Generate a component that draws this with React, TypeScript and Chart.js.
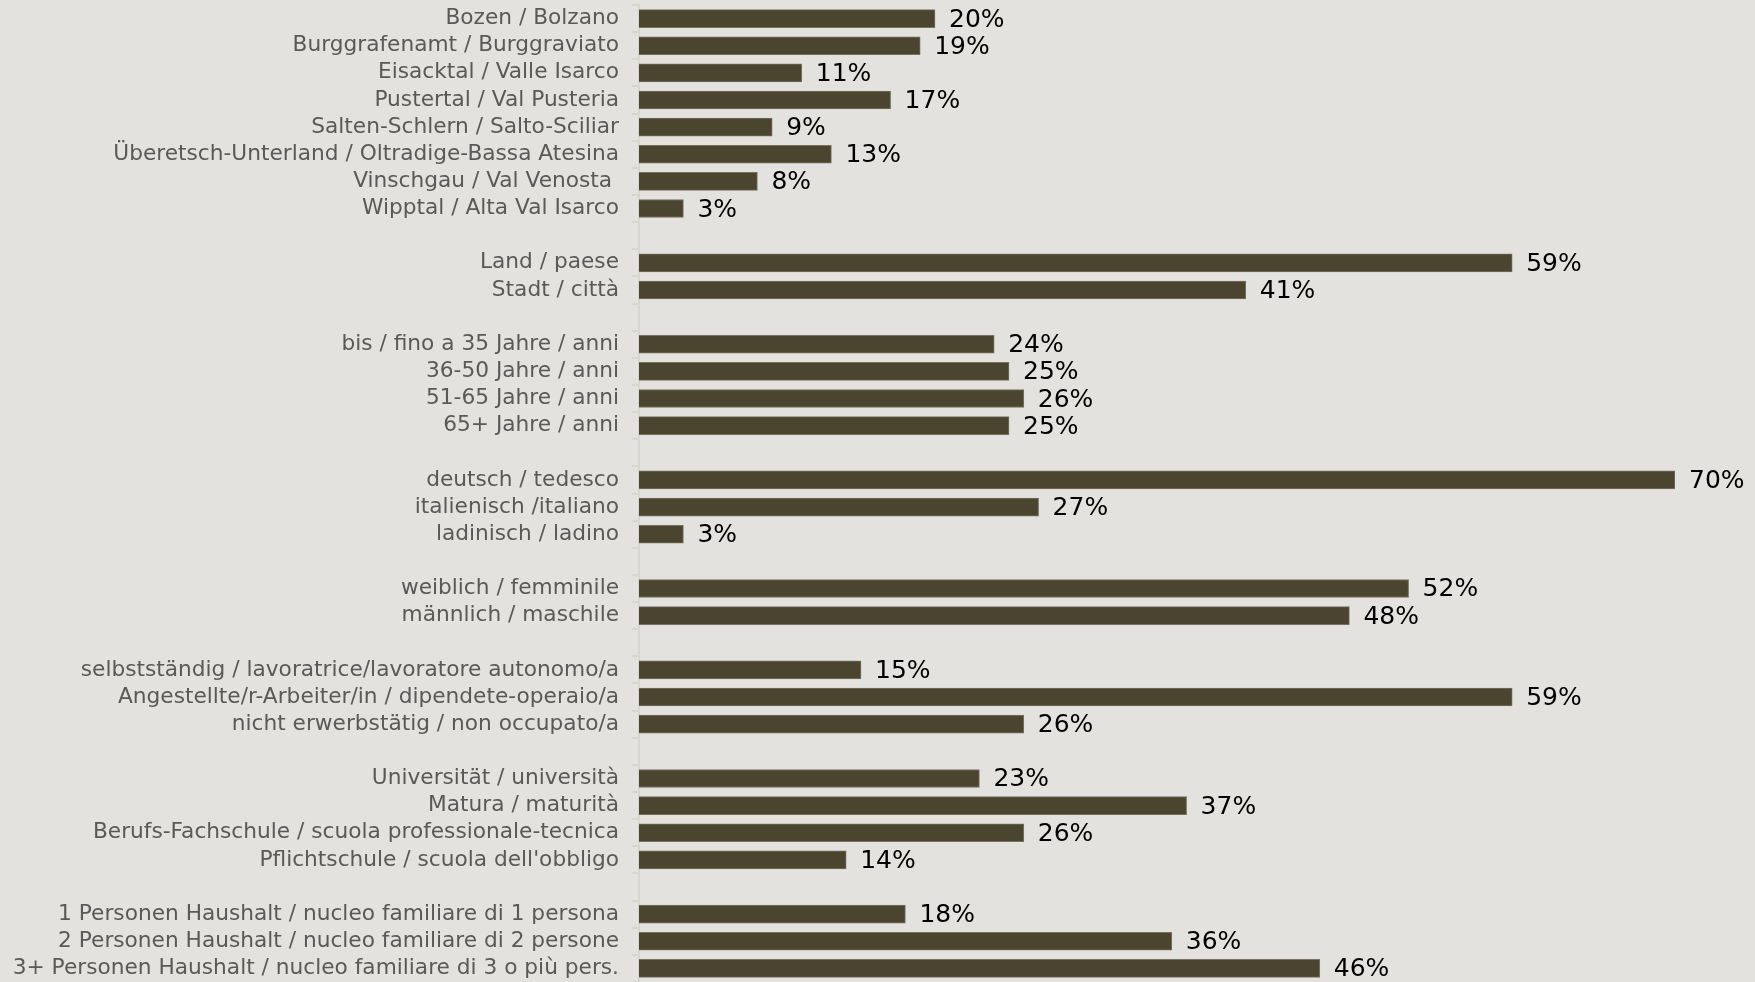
import React, { useEffect, useRef } from "react";
import { Chart, registerables } from "chart.js";

Chart.register(...registerables);

const categories: string[] = [
  "Bozen / Bolzano",
  "Burggrafenamt / Burggraviato",
  "Eisacktal / Valle Isarco",
  "Pustertal / Val Pusteria",
  "Salten-Schlern / Salto-Sciliar",
  "Überetsch-Unterland / Oltradige-Bassa Atesina",
  "Vinschgau / Val Venosta ",
  "Wipptal / Alta Val Isarco",
  "",
  "Land / paese",
  "Stadt / città",
  "",
  "bis / fino a 35 Jahre / anni",
  "36-50 Jahre / anni",
  "51-65 Jahre / anni",
  "65+ Jahre / anni",
  "",
  "deutsch / tedesco",
  "italienisch /italiano",
  "ladinisch / ladino",
  "",
  "weiblich / femminile",
  "männlich / maschile",
  "",
  "selbstständig / lavoratrice/lavoratore autonomo/a",
  "Angestellte/r-Arbeiter/in / dipendete-operaio/a",
  "nicht erwerbstätig / non occupato/a",
  "",
  "Universität / università",
  "Matura / maturità",
  "Berufs-Fachschule / scuola professionale-tecnica",
  "Pflichtschule / scuola dell'obbligo",
  "",
  "1 Personen Haushalt / nucleo familiare di 1 persona",
  "2 Personen Haushalt / nucleo familiare di 2 persone",
  "3+ Personen Haushalt / nucleo familiare di 3 o più pers.",
];

const values: (number | null)[] = [
  20, 19, 11, 17, 9, 13, 8, 3,
  null,
  59, 41,
  null,
  24, 25, 26, 25,
  null,
  70, 27, 3,
  null,
  52, 48,
  null,
  15, 59, 26,
  null,
  23, 37, 26, 14,
  null,
  18, 36, 46,
];

const axisMin = 0;
const axisMax = 70;

const valueLabels = {
  id: "valueLabels",
  afterDatasetsDraw(chart: any) {
    const ctx = chart.ctx;
    const meta = chart.getDatasetMeta(0);
    ctx.save();
    ctx.font = "25px 'DejaVu Sans'";
    ctx.fillStyle = "#000000";
    ctx.textAlign = "left";
    ctx.textBaseline = "middle";
    meta.data.forEach((bar: any, i: number) => {
      const v = values[i];
      if (v === null || v === undefined) return;
      ctx.fillText(`${v}%`, bar.x + 14, bar.y + 1.5);
    });
    ctx.restore();
  },
};

export default function App() {
  const ref = useRef<HTMLCanvasElement | null>(null);

  useEffect(() => {
    if (!ref.current) return;
    const chart = new Chart(ref.current, {
      type: "bar",
      data: {
        labels: categories,
        datasets: [
          {
            data: values,
            backgroundColor: "#4b4530",
            borderColor: "#77725f",
            borderWidth: 1,
            barThickness: 18,
          },
        ],
      },
      options: {
        indexAxis: "y",
        animation: false,
        responsive: false,
        maintainAspectRatio: false,
        layout: { padding: { top: 5, right: 80, left: 0, bottom: 0 } },
        plugins: {
          legend: { display: false },
          tooltip: { enabled: false },
        },
        scales: {
          x: {
            display: false,
            min: axisMin,
            max: axisMax,
          },
          y: {
            grid: {
              offset: true,
              drawOnChartArea: false,
              drawTicks: true,
              tickLength: 7,
              color: "#d6d6d3",
              lineWidth: 2,
            },
            border: { display: true, color: "#d6d6d3", width: 2 },
            ticks: {
              autoSkip: false,
              padding: 13,
              color: "#595959",
              font: { family: "'DejaVu Sans'", size: 21.7 },
            },
            afterFit: (scale: any) => {
              scale.width = 639;
              scale.paddingTop = 0;
              scale.paddingBottom = 0;
            },
          },
        },
      },
      plugins: [valueLabels],
    });
    return () => chart.destroy();
  }, []);

  return (
    <div
      style={{
        position: "fixed",
        left: 0,
        top: 0,
        width: 1755,
        height: 982,
        background: "#e3e2de",
      }}
    >
      <canvas ref={ref} width={1755} height={982} style={{ display: "block" }} />
    </div>
  );
}
